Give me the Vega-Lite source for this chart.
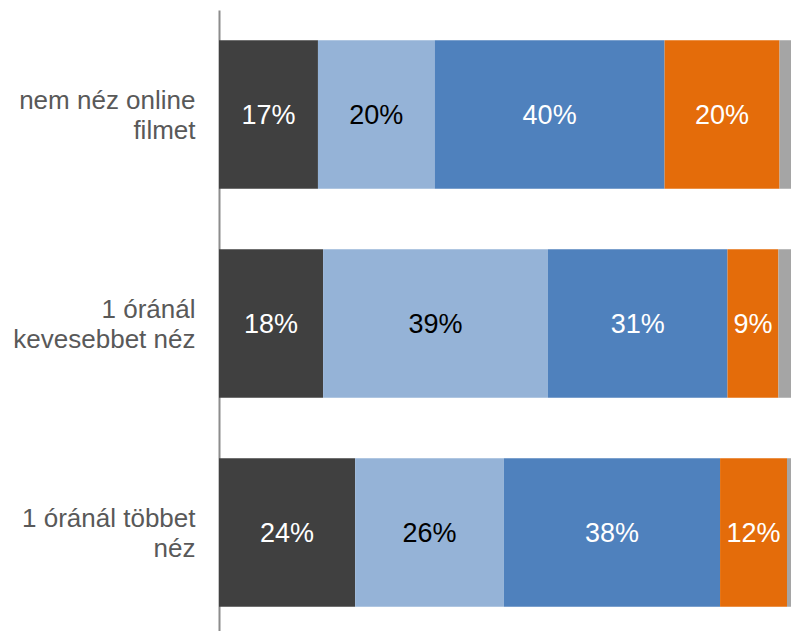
{
  "$schema": "https://vega.github.io/schema/vega-lite/v6.json",
  "width": 572,
  "height": 627,
  "autosize": {"type": "none"},
  "padding": {"left": 219, "top": 10, "right": 0, "bottom": 0},
  "background": "white",
  "config": {"view": {"stroke": null}, "font": "Liberation Sans"},
  "data": {
    "values": [
      {"group": "nem néz online filmet", "s": "A", "v": 17.3},
      {"group": "nem néz online filmet", "s": "B", "v": 20.4},
      {"group": "nem néz online filmet", "s": "C", "v": 40.2},
      {"group": "nem néz online filmet", "s": "D", "v": 20.1},
      {"group": "nem néz online filmet", "s": "E", "v": 2.0},
      {"group": "1 óránál kevesebbet néz", "s": "A", "v": 18.2},
      {"group": "1 óránál kevesebbet néz", "s": "B", "v": 39.3},
      {"group": "1 óránál kevesebbet néz", "s": "C", "v": 31.4},
      {"group": "1 óránál kevesebbet néz", "s": "D", "v": 8.9},
      {"group": "1 óránál kevesebbet néz", "s": "E", "v": 2.2},
      {"group": "1 óránál többet néz", "s": "A", "v": 23.8},
      {"group": "1 óránál többet néz", "s": "B", "v": 26.0},
      {"group": "1 óránál többet néz", "s": "C", "v": 37.8},
      {"group": "1 óránál többet néz", "s": "D", "v": 11.7},
      {"group": "1 óránál többet néz", "s": "E", "v": 0.7}
    ]
  },
  "transform": [
    {"stack": "v", "groupby": ["group"], "sort": [{"field": "s", "order": "ascending"}], "as": ["v0", "v1"]},
    {"calculate": "(datum.v0 + datum.v1) / 2", "as": "mid"},
    {"calculate": "format(datum.v, '.0f') + '%'", "as": "label"}
  ],
  "encoding": {
    "y": {
      "field": "group",
      "type": "nominal",
      "sort": ["nem néz online filmet", "1 óránál kevesebbet néz", "1 óránál többet néz"],
      "scale": {"paddingInner": 0.29, "paddingOuter": 0.145},
      "axis": {
        "title": null,
        "ticks": false,
        "domainColor": "#8c8c8c",
        "domainWidth": 2,
        "labelFontSize": 26,
        "labelColor": "#595959",
        "labelPadding": 24,
        "labelLineHeight": 30,
        "labelOffset": -14,
        "labelLimit": 300,
        "labelExpr": "datum.value == 'nem néz online filmet' ? ['nem néz online', 'filmet'] : datum.value == '1 óránál kevesebbet néz' ? ['1 óránál', 'kevesebbet néz'] : ['1 óránál többet', 'néz']"
      }
    }
  },
  "layer": [
    {
      "mark": {"type": "bar"},
      "encoding": {
        "x": {"field": "v0", "type": "quantitative", "scale": {"domain": [0, 100]}, "axis": null},
        "x2": {"field": "v1"},
        "color": {
          "field": "s",
          "type": "nominal",
          "scale": {"domain": ["A", "B", "C", "D", "E"], "range": ["#404040", "#95b3d7", "#4f81bd", "#e46c0a", "#a5a5a5"]},
          "legend": null
        }
      }
    },
    {
      "transform": [{"filter": "datum.s != 'E'"}],
      "mark": {"type": "text", "fontSize": 27, "align": "center", "baseline": "middle", "dy": 1},
      "encoding": {
        "x": {"field": "mid", "type": "quantitative"},
        "text": {"field": "label"},
        "color": {"condition": {"test": "datum.s == 'B'", "value": "#000000"}, "value": "#ffffff"}
      }
    }
  ]
}
